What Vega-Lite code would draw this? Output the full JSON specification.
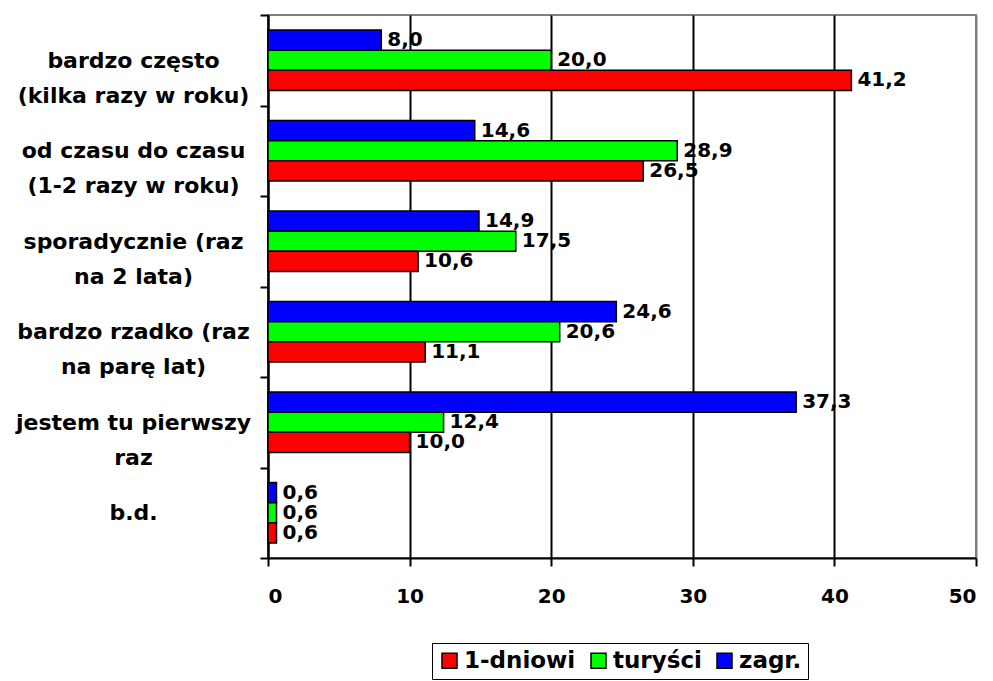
{
  "$schema": "https://vega.github.io/schema/vega-lite/v6.json",
  "width": 708,
  "height": 543,
  "autosize": {"type": "none"},
  "padding": {"left": 268, "top": 15, "right": 17, "bottom": 123},
  "config": {
    "locale": {"number": {"decimal": ",", "thousands": " ", "grouping": [3], "currency": ["", ""]}},
    "view": {"stroke": "#808080", "strokeWidth": 2},
    "font": "DejaVu Sans"
  },
  "data": {
    "values": [
      {"cat": "bardzo często|(kilka razy w roku)", "grp": "zagr.", "v": 8.0},
      {"cat": "bardzo często|(kilka razy w roku)", "grp": "turyści", "v": 20.0},
      {"cat": "bardzo często|(kilka razy w roku)", "grp": "1-dniowi", "v": 41.2},
      {"cat": "od czasu do czasu|(1-2 razy w roku)", "grp": "zagr.", "v": 14.6},
      {"cat": "od czasu do czasu|(1-2 razy w roku)", "grp": "turyści", "v": 28.9},
      {"cat": "od czasu do czasu|(1-2 razy w roku)", "grp": "1-dniowi", "v": 26.5},
      {"cat": "sporadycznie (raz|na 2 lata)", "grp": "zagr.", "v": 14.9},
      {"cat": "sporadycznie (raz|na 2 lata)", "grp": "turyści", "v": 17.5},
      {"cat": "sporadycznie (raz|na 2 lata)", "grp": "1-dniowi", "v": 10.6},
      {"cat": "bardzo rzadko (raz|na parę lat)", "grp": "zagr.", "v": 24.6},
      {"cat": "bardzo rzadko (raz|na parę lat)", "grp": "turyści", "v": 20.6},
      {"cat": "bardzo rzadko (raz|na parę lat)", "grp": "1-dniowi", "v": 11.1},
      {"cat": "jestem tu pierwszy|raz", "grp": "zagr.", "v": 37.3},
      {"cat": "jestem tu pierwszy|raz", "grp": "turyści", "v": 12.4},
      {"cat": "jestem tu pierwszy|raz", "grp": "1-dniowi", "v": 10.0},
      {"cat": "b.d.", "grp": "zagr.", "v": 0.6},
      {"cat": "b.d.", "grp": "turyści", "v": 0.6},
      {"cat": "b.d.", "grp": "1-dniowi", "v": 0.6}
    ]
  },
  "encoding": {
    "y": {
      "field": "cat",
      "type": "nominal",
      "sort": ["bardzo często|(kilka razy w roku)", "od czasu do czasu|(1-2 razy w roku)", "sporadycznie (raz|na 2 lata)", "bardzo rzadko (raz|na parę lat)", "jestem tu pierwszy|raz", "b.d."],
      "scale": {"paddingInner": 0, "paddingOuter": 0},
      "axis": {
        "title": null,
        "tickBand": "extent",
        "domainColor": "black",
        "domainWidth": 2,
        "tickColor": "black",
        "tickWidth": 2,
        "tickSize": 8,
        "labelAlign": "center",
        "labelPadding": 127,
        "labelFontSize": 22,
        "labelFontWeight": "bold",
        "labelColor": "black",
        "labelLineHeight": 35,
        "labelLimit": 0,
        "labelExpr": "split(datum.label, '|')",
        "grid": false
      }
    },
    "yOffset": {
      "field": "grp",
      "type": "nominal",
      "sort": ["zagr.", "turyści", "1-dniowi"],
      "scale": {"paddingInner": 0, "paddingOuter": 0.75}
    },
    "x": {
      "field": "v",
      "type": "quantitative",
      "scale": {"domain": [0, 50]},
      "axis": {
        "title": null,
        "values": [0, 10, 20, 30, 40, 50],
        "format": "d",
        "grid": true,
        "gridColor": {"condition": {"test": "datum.value == 50", "value": "#808080"}, "value": "black"},
        "gridWidth": 2,
        "domainColor": "black",
        "domainWidth": 2,
        "tickColor": "black",
        "tickWidth": 2,
        "tickSize": 8,
        "labelFontSize": 20,
        "labelFontWeight": "bold",
        "labelColor": "black",
        "labelPadding": 20
      }
    }
  },
  "layer": [
    {
      "mark": {"type": "bar", "stroke": "black", "strokeWidth": 1.5, "opacity": 1},
      "encoding": {
        "color": {
          "field": "grp",
          "type": "nominal",
          "scale": {"domain": ["1-dniowi", "turyści", "zagr."], "range": ["#ff0000", "#00ff00", "#0000ff"]},
          "legend": {
            "title": null,
            "orient": "none",
            "legendX": 164,
            "legendY": 628,
            "direction": "horizontal",
            "symbolType": "square",
            "symbolSize": 225,
            "symbolStrokeColor": "black",
            "symbolStrokeWidth": 1.5,
            "symbolOpacity": 1,
            "labelFontSize": 23,
            "labelFontWeight": "bold",
            "labelColor": "black",
            "labelOffset": 3,
            "columnPadding": 11,
            "strokeColor": "black",
            "padding": 6,
            "fillColor": "white"
          }
        }
      }
    },
    {
      "mark": {"type": "text", "align": "left", "baseline": "middle", "dx": 6, "fontSize": 20, "fontWeight": "bold", "color": "black"},
      "encoding": {
        "text": {"field": "v", "type": "quantitative", "format": ".1f"}
      }
    }
  ]
}
